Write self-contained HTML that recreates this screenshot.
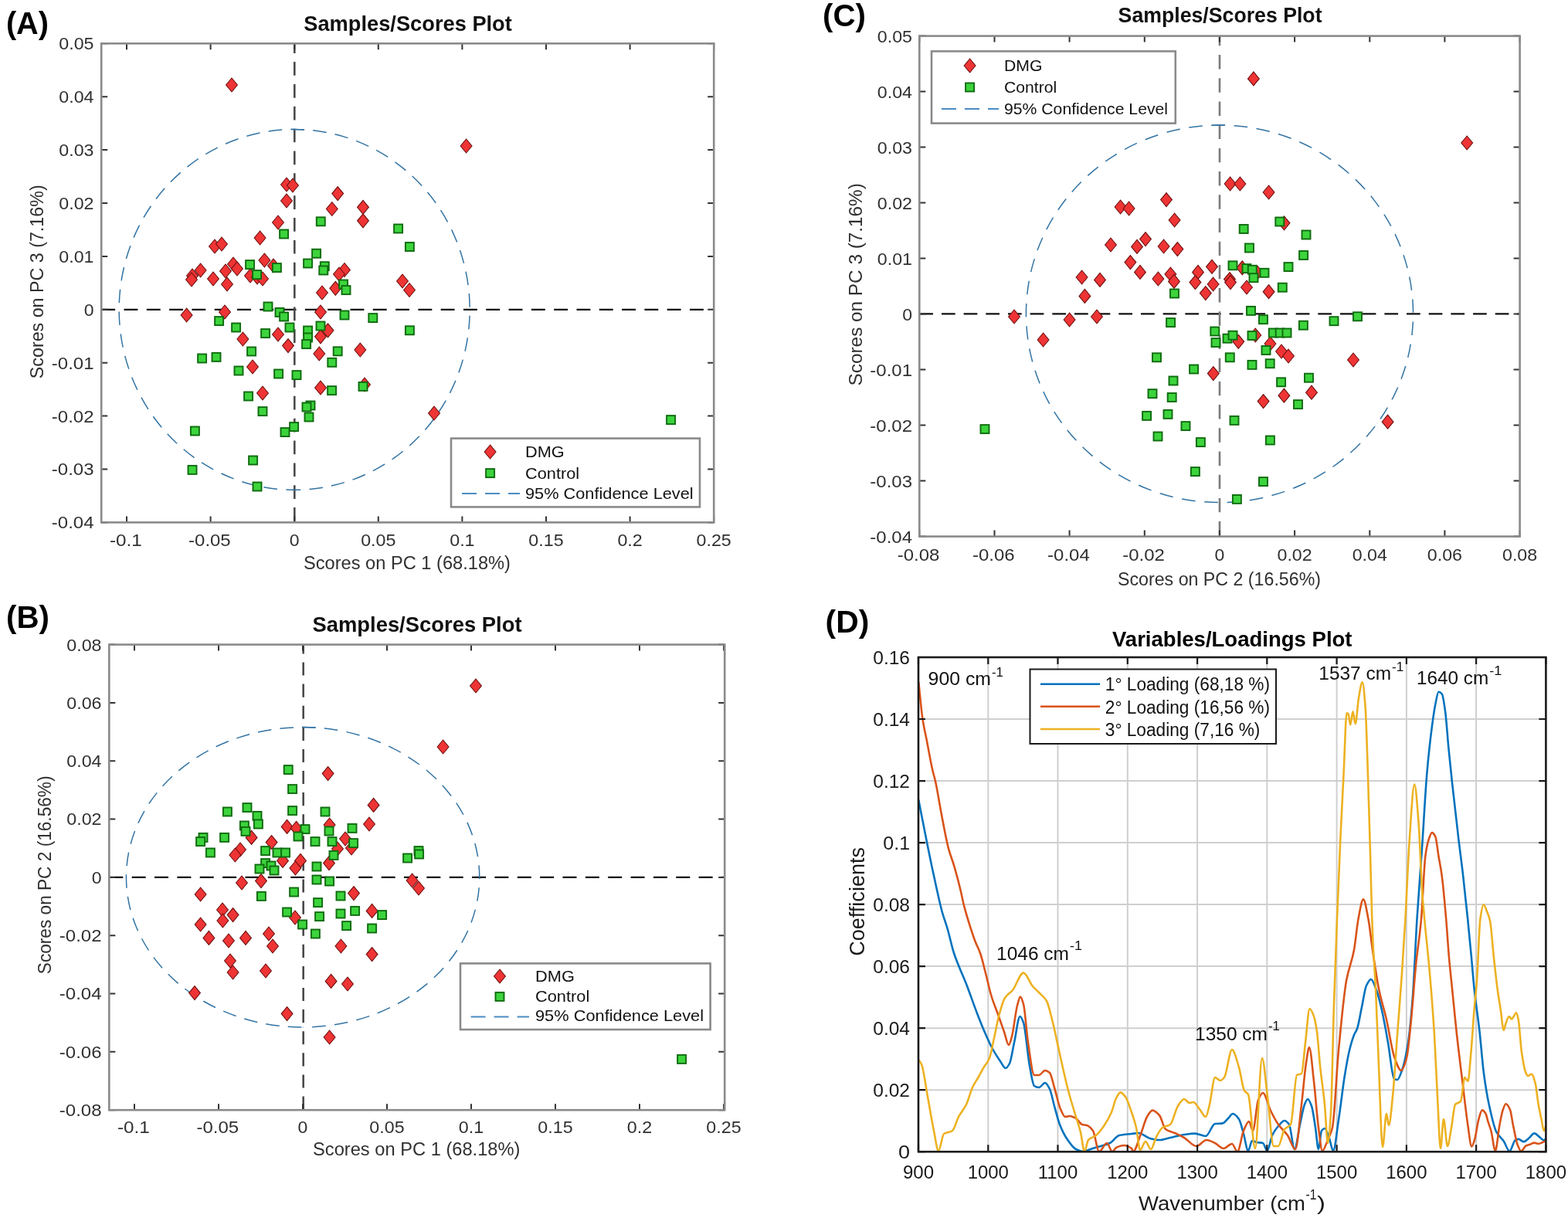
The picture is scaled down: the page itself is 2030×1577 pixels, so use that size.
<!DOCTYPE html>
<html><head><meta charset="utf-8"><title>PCA figure</title><style>html,body{margin:0;padding:0;background:#fff;}svg{display:block;}</style></head><body>
<svg width="2030" height="1577" viewBox="0 0 2030 1577" font-family="'Liberation Sans', Arial, Helvetica, sans-serif">
<rect width="2030" height="1577" fill="#fff"/>
<clipPath id="cA"><rect x="131.2" y="56.3" width="793.0" height="620.1"/></clipPath>
<g clip-path="url(#cA)">
<line x1="131.2" y1="400.9" x2="924.2" y2="400.9" stroke="#111" stroke-width="2.2" stroke-dasharray="17.9 11.4" stroke-dashoffset="0"/>
<line x1="381.3" y1="56.3" x2="381.3" y2="676.4" stroke="#4a4a4a" stroke-width="2.6" stroke-dasharray="17.7 11.15" stroke-dashoffset="5.05"/>
<path d="M376.50 167.55A227 233.4 0 1 1 381.20 634.30" fill="none" stroke="#3273a3" stroke-width="1.5" stroke-dasharray="17.6 11.18"/>
<path d="M394.10 167.88A227 233.4 0 1 0 381.20 634.30" fill="none" stroke="#3273a3" stroke-width="1.5" stroke-dasharray="17.6 11.4"/>
<g fill="#ee3434" stroke="#6e0f0f" stroke-width="1.1"><path d="M300.0 101.0L307.4 110.0L300.0 119.0L292.6 110.0Z"/><path d="M603.6 180.0L611.0 189.0L603.6 198.0L596.2 189.0Z"/><path d="M371.0 230.0L378.4 239.0L371.0 248.0L363.6 239.0Z"/><path d="M379.0 231.0L386.4 240.0L379.0 249.0L371.6 240.0Z"/><path d="M371.0 251.0L378.4 260.0L371.0 269.0L363.6 260.0Z"/><path d="M437.2 241.6L444.6 250.6L437.2 259.6L429.8 250.6Z"/><path d="M429.8 261.5L437.2 270.5L429.8 279.5L422.4 270.5Z"/><path d="M470.0 259.3L477.4 268.3L470.0 277.3L462.6 268.3Z"/><path d="M470.0 276.8L477.4 285.8L470.0 294.8L462.6 285.8Z"/><path d="M360.0 279.0L367.4 288.0L360.0 297.0L352.6 288.0Z"/><path d="M336.6 299.0L344.0 308.0L336.6 317.0L329.2 308.0Z"/><path d="M278.0 310.0L285.4 319.0L278.0 328.0L270.6 319.0Z"/><path d="M287.0 307.0L294.4 316.0L287.0 325.0L279.6 316.0Z"/><path d="M342.4 328.0L349.8 337.0L342.4 346.0L335.0 337.0Z"/><path d="M354.0 335.0L361.4 344.0L354.0 353.0L346.6 344.0Z"/><path d="M302.0 333.0L309.4 342.0L302.0 351.0L294.6 342.0Z"/><path d="M307.0 339.0L314.4 348.0L307.0 357.0L299.6 348.0Z"/><path d="M292.0 342.0L299.4 351.0L292.0 360.0L284.6 351.0Z"/><path d="M259.6 341.0L267.0 350.0L259.6 359.0L252.2 350.0Z"/><path d="M249.0 348.0L256.4 357.0L249.0 366.0L241.6 357.0Z"/><path d="M248.0 353.0L255.4 362.0L248.0 371.0L240.6 362.0Z"/><path d="M276.0 352.0L283.4 361.0L276.0 370.0L268.6 361.0Z"/><path d="M294.0 359.0L301.4 368.0L294.0 377.0L286.6 368.0Z"/><path d="M324.0 348.0L331.4 357.0L324.0 366.0L316.6 357.0Z"/><path d="M333.0 350.0L340.4 359.0L333.0 368.0L325.6 359.0Z"/><path d="M340.0 352.0L347.4 361.0L340.0 370.0L332.6 361.0Z"/><path d="M446.0 340.5L453.4 349.5L446.0 358.5L438.6 349.5Z"/><path d="M439.0 346.0L446.4 355.0L439.0 364.0L431.6 355.0Z"/><path d="M434.3 364.3L441.7 373.3L434.3 382.3L426.9 373.3Z"/><path d="M417.0 370.0L424.4 379.0L417.0 388.0L409.6 379.0Z"/><path d="M521.0 355.0L528.4 364.0L521.0 373.0L513.6 364.0Z"/><path d="M530.0 366.5L537.4 375.5L530.0 384.5L522.6 375.5Z"/><path d="M241.6 399.0L249.0 408.0L241.6 417.0L234.2 408.0Z"/><path d="M291.0 395.0L298.4 404.0L291.0 413.0L283.6 404.0Z"/><path d="M314.4 430.0L321.8 439.0L314.4 448.0L307.0 439.0Z"/><path d="M360.0 424.0L367.4 433.0L360.0 442.0L352.6 433.0Z"/><path d="M373.0 438.6L380.4 447.6L373.0 456.6L365.6 447.6Z"/><path d="M327.0 466.0L334.4 475.0L327.0 484.0L319.6 475.0Z"/><path d="M340.0 500.0L347.4 509.0L340.0 518.0L332.6 509.0Z"/><path d="M415.0 395.0L422.4 404.0L415.0 413.0L407.6 404.0Z"/><path d="M424.5 418.8L431.9 427.8L424.5 436.8L417.1 427.8Z"/><path d="M415.0 426.8L422.4 435.8L415.0 444.8L407.6 435.8Z"/><path d="M413.3 449.0L420.7 458.0L413.3 467.0L405.9 458.0Z"/><path d="M466.3 444.0L473.7 453.0L466.3 462.0L458.9 453.0Z"/><path d="M415.0 493.0L422.4 502.0L415.0 511.0L407.6 502.0Z"/><path d="M472.0 489.0L479.4 498.0L472.0 507.0L464.6 498.0Z"/><path d="M562.0 526.0L569.4 535.0L562.0 544.0L554.6 535.0Z"/></g>
<g fill="#3cd43c" stroke="#0f6b0f" stroke-width="1.9"><rect x="409.8" y="281.3" width="11.0" height="11.0"/><rect x="362.1" y="297.5" width="11.0" height="11.0"/><rect x="510.1" y="290.5" width="11.0" height="11.0"/><rect x="524.9" y="314.0" width="11.0" height="11.0"/><rect x="404.1" y="322.7" width="11.0" height="11.0"/><rect x="393.1" y="335.5" width="11.0" height="11.0"/><rect x="414.8" y="339.2" width="11.0" height="11.0"/><rect x="413.3" y="344.5" width="11.0" height="11.0"/><rect x="318.1" y="337.1" width="11.0" height="11.0"/><rect x="327.1" y="350.1" width="11.0" height="11.0"/><rect x="352.9" y="341.1" width="11.0" height="11.0"/><rect x="439.0" y="362.5" width="11.0" height="11.0"/><rect x="442.5" y="370.1" width="11.0" height="11.0"/><rect x="341.5" y="391.5" width="11.0" height="11.0"/><rect x="356.5" y="398.9" width="11.0" height="11.0"/><rect x="362.1" y="404.5" width="11.0" height="11.0"/><rect x="278.1" y="410.1" width="11.0" height="11.0"/><rect x="300.1" y="418.5" width="11.0" height="11.0"/><rect x="369.5" y="418.5" width="11.0" height="11.0"/><rect x="338.1" y="426.1" width="11.0" height="11.0"/><rect x="393.1" y="422.5" width="11.0" height="11.0"/><rect x="393.1" y="431.5" width="11.0" height="11.0"/><rect x="391.1" y="440.1" width="11.0" height="11.0"/><rect x="409.5" y="416.5" width="11.0" height="11.0"/><rect x="440.5" y="402.5" width="11.0" height="11.0"/><rect x="477.3" y="406.1" width="11.0" height="11.0"/><rect x="524.9" y="422.3" width="11.0" height="11.0"/><rect x="320.1" y="449.5" width="11.0" height="11.0"/><rect x="256.1" y="458.5" width="11.0" height="11.0"/><rect x="274.5" y="456.9" width="11.0" height="11.0"/><rect x="303.5" y="474.5" width="11.0" height="11.0"/><rect x="355.1" y="478.5" width="11.0" height="11.0"/><rect x="378.5" y="480.1" width="11.0" height="11.0"/><rect x="431.7" y="449.3" width="11.0" height="11.0"/><rect x="424.3" y="463.8" width="11.0" height="11.0"/><rect x="424.1" y="500.1" width="11.0" height="11.0"/><rect x="464.5" y="494.9" width="11.0" height="11.0"/><rect x="316.1" y="507.5" width="11.0" height="11.0"/><rect x="334.5" y="527.1" width="11.0" height="11.0"/><rect x="396.5" y="519.5" width="11.0" height="11.0"/><rect x="391.5" y="521.5" width="11.0" height="11.0"/><rect x="394.5" y="534.5" width="11.0" height="11.0"/><rect x="375.1" y="547.1" width="11.0" height="11.0"/><rect x="363.5" y="554.1" width="11.0" height="11.0"/><rect x="246.9" y="552.5" width="11.0" height="11.0"/><rect x="322.1" y="590.5" width="11.0" height="11.0"/><rect x="243.5" y="602.9" width="11.0" height="11.0"/><rect x="327.5" y="624.5" width="11.0" height="11.0"/><rect x="863.1" y="538.1" width="11.0" height="11.0"/></g>
</g>
<path d="M164.0 676.4V668.4M164.0 56.3V64.3M272.6 676.4V668.4M272.6 56.3V64.3M381.2 676.4V668.4M381.2 56.3V64.3M489.8 676.4V668.4M489.8 56.3V64.3M598.4 676.4V668.4M598.4 56.3V64.3M707.0 676.4V668.4M707.0 56.3V64.3M815.6 676.4V668.4M815.6 56.3V64.3M924.2 676.4V668.4M924.2 56.3V64.3M131.2 56.3H139.2M924.2 56.3H916.2M131.2 125.2H139.2M924.2 125.2H916.2M131.2 194.1H139.2M924.2 194.1H916.2M131.2 263.0H139.2M924.2 263.0H916.2M131.2 331.9H139.2M924.2 331.9H916.2M131.2 400.8H139.2M924.2 400.8H916.2M131.2 469.7H139.2M924.2 469.7H916.2M131.2 538.6H139.2M924.2 538.6H916.2M131.2 607.5H139.2M924.2 607.5H916.2M131.2 676.4H139.2M924.2 676.4H916.2" stroke="#333333" stroke-width="2" fill="none"/>
<rect x="131.2" y="56.3" width="793.0" height="620.1" fill="none" stroke="#8a8a8a" stroke-width="2.6"/>
<text x="162.80" y="706.60" font-size="22" font-weight="normal" fill="#303030" text-anchor="middle" textLength="41.81" lengthAdjust="spacingAndGlyphs">-0.1</text>
<text x="271.40" y="706.60" font-size="22" font-weight="normal" fill="#303030" text-anchor="middle" textLength="54.65" lengthAdjust="spacingAndGlyphs">-0.05</text>
<text x="381.20" y="706.60" font-size="22" font-weight="normal" fill="#303030" text-anchor="middle" textLength="12.84" lengthAdjust="spacingAndGlyphs">0</text>
<text x="489.80" y="706.60" font-size="22" font-weight="normal" fill="#303030" text-anchor="middle" textLength="45.22" lengthAdjust="spacingAndGlyphs">0.05</text>
<text x="598.40" y="706.60" font-size="22" font-weight="normal" fill="#303030" text-anchor="middle" textLength="32.38" lengthAdjust="spacingAndGlyphs">0.1</text>
<text x="707.00" y="706.60" font-size="22" font-weight="normal" fill="#303030" text-anchor="middle" textLength="45.22" lengthAdjust="spacingAndGlyphs">0.15</text>
<text x="815.60" y="706.60" font-size="22" font-weight="normal" fill="#303030" text-anchor="middle" textLength="32.38" lengthAdjust="spacingAndGlyphs">0.2</text>
<text x="924.20" y="706.60" font-size="22" font-weight="normal" fill="#303030" text-anchor="middle" textLength="45.22" lengthAdjust="spacingAndGlyphs">0.25</text>
<text x="121.50" y="64.22" font-size="22" font-weight="normal" fill="#303030" text-anchor="end" textLength="45.22" lengthAdjust="spacingAndGlyphs">0.05</text>
<text x="121.50" y="133.12" font-size="22" font-weight="normal" fill="#303030" text-anchor="end" textLength="45.22" lengthAdjust="spacingAndGlyphs">0.04</text>
<text x="121.50" y="202.02" font-size="22" font-weight="normal" fill="#303030" text-anchor="end" textLength="45.22" lengthAdjust="spacingAndGlyphs">0.03</text>
<text x="121.50" y="270.92" font-size="22" font-weight="normal" fill="#303030" text-anchor="end" textLength="45.22" lengthAdjust="spacingAndGlyphs">0.02</text>
<text x="121.50" y="339.82" font-size="22" font-weight="normal" fill="#303030" text-anchor="end" textLength="45.22" lengthAdjust="spacingAndGlyphs">0.01</text>
<text x="121.50" y="408.72" font-size="22" font-weight="normal" fill="#303030" text-anchor="end" textLength="12.84" lengthAdjust="spacingAndGlyphs">0</text>
<text x="121.50" y="477.62" font-size="22" font-weight="normal" fill="#303030" text-anchor="end" textLength="54.65" lengthAdjust="spacingAndGlyphs">-0.01</text>
<text x="121.50" y="546.52" font-size="22" font-weight="normal" fill="#303030" text-anchor="end" textLength="54.65" lengthAdjust="spacingAndGlyphs">-0.02</text>
<text x="121.50" y="615.42" font-size="22" font-weight="normal" fill="#303030" text-anchor="end" textLength="54.65" lengthAdjust="spacingAndGlyphs">-0.03</text>
<text x="121.50" y="684.32" font-size="22" font-weight="normal" fill="#303030" text-anchor="end" textLength="54.65" lengthAdjust="spacingAndGlyphs">-0.04</text>
<rect x="584" y="567.6" width="322" height="88.79999999999995" fill="#fff" stroke="#8a8a8a" stroke-width="2.6"/>
<g fill="#ee3434" stroke="#6e0f0f" stroke-width="1.1"><path d="M634.6 576.0L642.0 585.0L634.6 594.0L627.2 585.0Z"/></g>
<g fill="#3cd43c" stroke="#0f6b0f" stroke-width="1.9"><rect x="629.1" y="607.1" width="11.0" height="11.0"/></g>
<line x1="598" y1="639" x2="673" y2="639" stroke="#4a8cc4" stroke-width="2" stroke-dasharray="19 11"/>
<text x="680.00" y="592.40" font-size="21" font-weight="normal" fill="#111" textLength="50.74" lengthAdjust="spacingAndGlyphs" >DMG</text>
<text x="680.00" y="620.00" font-size="21" font-weight="normal" fill="#111" textLength="70.11" lengthAdjust="spacingAndGlyphs" >Control</text>
<text x="680.00" y="645.60" font-size="21" font-weight="normal" fill="#111" textLength="217.64" lengthAdjust="spacingAndGlyphs" >95% Confidence Level</text>
<clipPath id="cB"><rect x="141.3" y="834.6" width="796.9000000000001" height="602.6"/></clipPath>
<g clip-path="url(#cB)">
<line x1="141.3" y1="1135.8" x2="938.2" y2="1135.8" stroke="#111" stroke-width="2.2" stroke-dasharray="18 11.36" stroke-dashoffset="0"/>
<line x1="392.7" y1="834.6" x2="392.7" y2="1437.2" stroke="#4a4a4a" stroke-width="2.6" stroke-dasharray="17.1 11" stroke-dashoffset="5.2"/>
<path d="M391.00 941.60A229 194.2 0 1 1 392.50 1330.00" fill="none" stroke="#3273a3" stroke-width="1.5" stroke-dasharray="17.6 11.32"/>
<path d="M408.70 942.09A229 194.2 0 1 0 392.50 1330.00" fill="none" stroke="#3273a3" stroke-width="1.5" stroke-dasharray="17.6 11.19"/>
<g fill="#ee3434" stroke="#6e0f0f" stroke-width="1.1"><path d="M424.6 992.6L432.0 1001.6L424.6 1010.6L417.2 1001.6Z"/><path d="M483.6 1033.4L491.0 1042.4L483.6 1051.4L476.2 1042.4Z"/><path d="M478.0 1058.0L485.4 1067.0L478.0 1076.0L470.6 1067.0Z"/><path d="M371.6 1061.4L379.0 1070.4L371.6 1079.4L364.2 1070.4Z"/><path d="M383.6 1063.4L391.0 1072.4L383.6 1081.4L376.2 1072.4Z"/><path d="M426.6 1059.0L434.0 1068.0L426.6 1077.0L419.2 1068.0Z"/><path d="M325.6 1075.4L333.0 1084.4L325.6 1093.4L318.2 1084.4Z"/><path d="M351.6 1081.6L359.0 1090.6L351.6 1099.6L344.2 1090.6Z"/><path d="M311.0 1091.0L318.4 1100.0L311.0 1109.0L303.6 1100.0Z"/><path d="M304.4 1098.0L311.8 1107.0L304.4 1116.0L297.0 1107.0Z"/><path d="M447.0 1077.0L454.4 1086.0L447.0 1095.0L439.6 1086.0Z"/><path d="M455.0 1089.0L462.4 1098.0L455.0 1107.0L447.6 1098.0Z"/><path d="M437.0 1090.0L444.4 1099.0L437.0 1108.0L429.6 1099.0Z"/><path d="M366.0 1105.4L373.4 1114.4L366.0 1123.4L358.6 1114.4Z"/><path d="M389.0 1105.4L396.4 1114.4L389.0 1123.4L381.6 1114.4Z"/><path d="M382.4 1115.0L389.8 1124.0L382.4 1133.0L375.0 1124.0Z"/><path d="M426.0 1108.6L433.4 1117.6L426.0 1126.6L418.6 1117.6Z"/><path d="M313.0 1134.0L320.4 1143.0L313.0 1152.0L305.6 1143.0Z"/><path d="M338.0 1131.6L345.4 1140.6L338.0 1149.6L330.6 1140.6Z"/><path d="M259.6 1149.0L267.0 1158.0L259.6 1167.0L252.2 1158.0Z"/><path d="M533.6 1131.0L541.0 1140.0L533.6 1149.0L526.2 1140.0Z"/><path d="M542.0 1141.0L549.4 1150.0L542.0 1159.0L534.6 1150.0Z"/><path d="M458.0 1147.6L465.4 1156.6L458.0 1165.6L450.6 1156.6Z"/><path d="M288.0 1169.0L295.4 1178.0L288.0 1187.0L280.6 1178.0Z"/><path d="M301.6 1175.6L309.0 1184.6L301.6 1193.6L294.2 1184.6Z"/><path d="M288.4 1183.0L295.8 1192.0L288.4 1201.0L281.0 1192.0Z"/><path d="M259.6 1188.0L267.0 1197.0L259.6 1206.0L252.2 1197.0Z"/><path d="M382.0 1179.0L389.4 1188.0L382.0 1197.0L374.6 1188.0Z"/><path d="M481.6 1170.4L489.0 1179.4L481.6 1188.4L474.2 1179.4Z"/><path d="M270.4 1205.4L277.8 1214.4L270.4 1223.4L263.0 1214.4Z"/><path d="M296.0 1209.0L303.4 1218.0L296.0 1227.0L288.6 1218.0Z"/><path d="M318.0 1205.4L325.4 1214.4L318.0 1223.4L310.6 1214.4Z"/><path d="M348.0 1200.0L355.4 1209.0L348.0 1218.0L340.6 1209.0Z"/><path d="M353.0 1216.0L360.4 1225.0L353.0 1234.0L345.6 1225.0Z"/><path d="M441.4 1216.0L448.8 1225.0L441.4 1234.0L434.0 1225.0Z"/><path d="M481.6 1226.6L489.0 1235.6L481.6 1244.6L474.2 1235.6Z"/><path d="M298.0 1235.0L305.4 1244.0L298.0 1253.0L290.6 1244.0Z"/><path d="M301.6 1250.0L309.0 1259.0L301.6 1268.0L294.2 1259.0Z"/><path d="M344.0 1248.0L351.4 1257.0L344.0 1266.0L336.6 1257.0Z"/><path d="M428.6 1261.4L436.0 1270.4L428.6 1279.4L421.2 1270.4Z"/><path d="M450.0 1265.0L457.4 1274.0L450.0 1283.0L442.6 1274.0Z"/><path d="M252.0 1276.6L259.4 1285.6L252.0 1294.6L244.6 1285.6Z"/><path d="M371.6 1303.6L379.0 1312.6L371.6 1321.6L364.2 1312.6Z"/><path d="M426.6 1334.0L434.0 1343.0L426.6 1352.0L419.2 1343.0Z"/><path d="M616.0 879.0L623.4 888.0L616.0 897.0L608.6 888.0Z"/><path d="M573.6 958.0L581.0 967.0L573.6 976.0L566.2 967.0Z"/></g>
<g fill="#3cd43c" stroke="#0f6b0f" stroke-width="1.9"><rect x="367.7" y="991.1" width="11.0" height="11.0"/><rect x="373.1" y="1016.1" width="11.0" height="11.0"/><rect x="373.1" y="1044.1" width="11.0" height="11.0"/><rect x="288.9" y="1045.5" width="11.0" height="11.0"/><rect x="314.5" y="1040.1" width="11.0" height="11.0"/><rect x="327.5" y="1050.9" width="11.0" height="11.0"/><rect x="328.9" y="1061.5" width="11.0" height="11.0"/><rect x="310.9" y="1063.5" width="11.0" height="11.0"/><rect x="312.5" y="1070.9" width="11.0" height="11.0"/><rect x="415.5" y="1045.5" width="11.0" height="11.0"/><rect x="389.5" y="1068.1" width="11.0" height="11.0"/><rect x="380.5" y="1077.5" width="11.0" height="11.0"/><rect x="420.5" y="1070.5" width="11.0" height="11.0"/><rect x="450.5" y="1066.9" width="11.0" height="11.0"/><rect x="402.5" y="1084.1" width="11.0" height="11.0"/><rect x="424.5" y="1084.1" width="11.0" height="11.0"/><rect x="452.1" y="1086.1" width="11.0" height="11.0"/><rect x="257.5" y="1078.9" width="11.0" height="11.0"/><rect x="254.1" y="1084.1" width="11.0" height="11.0"/><rect x="285.1" y="1078.9" width="11.0" height="11.0"/><rect x="266.9" y="1098.5" width="11.0" height="11.0"/><rect x="338.1" y="1096.1" width="11.0" height="11.0"/><rect x="353.5" y="1098.5" width="11.0" height="11.0"/><rect x="364.1" y="1098.5" width="11.0" height="11.0"/><rect x="338.1" y="1112.1" width="11.0" height="11.0"/><rect x="345.5" y="1115.5" width="11.0" height="11.0"/><rect x="330.5" y="1119.5" width="11.0" height="11.0"/><rect x="349.5" y="1121.5" width="11.0" height="11.0"/><rect x="426.5" y="1101.9" width="11.0" height="11.0"/><rect x="404.5" y="1116.5" width="11.0" height="11.0"/><rect x="404.5" y="1133.5" width="11.0" height="11.0"/><rect x="421.1" y="1135.5" width="11.0" height="11.0"/><rect x="522.1" y="1105.5" width="11.0" height="11.0"/><rect x="536.5" y="1096.1" width="11.0" height="11.0"/><rect x="537.1" y="1100.5" width="11.0" height="11.0"/><rect x="375.1" y="1149.5" width="11.0" height="11.0"/><rect x="332.9" y="1154.9" width="11.0" height="11.0"/><rect x="435.5" y="1154.5" width="11.0" height="11.0"/><rect x="406.1" y="1163.1" width="11.0" height="11.0"/><rect x="366.1" y="1175.5" width="11.0" height="11.0"/><rect x="408.1" y="1181.1" width="11.0" height="11.0"/><rect x="435.5" y="1177.5" width="11.0" height="11.0"/><rect x="454.1" y="1173.9" width="11.0" height="11.0"/><rect x="489.1" y="1179.1" width="11.0" height="11.0"/><rect x="386.1" y="1191.5" width="11.0" height="11.0"/><rect x="443.1" y="1193.1" width="11.0" height="11.0"/><rect x="476.1" y="1196.5" width="11.0" height="11.0"/><rect x="402.9" y="1203.5" width="11.0" height="11.0"/><rect x="877.1" y="1365.9" width="11.0" height="11.0"/></g>
</g>
<path d="M174.0 1437.2V1429.2M174.0 834.6V842.6M283.0 1437.2V1429.2M283.0 834.6V842.6M392.0 1437.2V1429.2M392.0 834.6V842.6M501.0 1437.2V1429.2M501.0 834.6V842.6M610.0 1437.2V1429.2M610.0 834.6V842.6M719.0 1437.2V1429.2M719.0 834.6V842.6M828.0 1437.2V1429.2M828.0 834.6V842.6M937.0 1437.2V1429.2M937.0 834.6V842.6M141.3 834.6H149.3M938.2 834.6H930.2M141.3 909.9H149.3M938.2 909.9H930.2M141.3 985.2H149.3M938.2 985.2H930.2M141.3 1060.6H149.3M938.2 1060.6H930.2M141.3 1135.9H149.3M938.2 1135.9H930.2M141.3 1211.2H149.3M938.2 1211.2H930.2M141.3 1286.5H149.3M938.2 1286.5H930.2M141.3 1361.8H149.3M938.2 1361.8H930.2M141.3 1437.2H149.3M938.2 1437.2H930.2" stroke="#333333" stroke-width="2" fill="none"/>
<rect x="141.3" y="834.6" width="796.9000000000001" height="602.6" fill="none" stroke="#8a8a8a" stroke-width="2.6"/>
<text x="172.80" y="1466.60" font-size="22" font-weight="normal" fill="#303030" text-anchor="middle" textLength="41.81" lengthAdjust="spacingAndGlyphs">-0.1</text>
<text x="281.80" y="1466.60" font-size="22" font-weight="normal" fill="#303030" text-anchor="middle" textLength="54.65" lengthAdjust="spacingAndGlyphs">-0.05</text>
<text x="392.00" y="1466.60" font-size="22" font-weight="normal" fill="#303030" text-anchor="middle" textLength="12.84" lengthAdjust="spacingAndGlyphs">0</text>
<text x="501.00" y="1466.60" font-size="22" font-weight="normal" fill="#303030" text-anchor="middle" textLength="45.22" lengthAdjust="spacingAndGlyphs">0.05</text>
<text x="610.00" y="1466.60" font-size="22" font-weight="normal" fill="#303030" text-anchor="middle" textLength="32.38" lengthAdjust="spacingAndGlyphs">0.1</text>
<text x="719.00" y="1466.60" font-size="22" font-weight="normal" fill="#303030" text-anchor="middle" textLength="45.22" lengthAdjust="spacingAndGlyphs">0.15</text>
<text x="828.00" y="1466.60" font-size="22" font-weight="normal" fill="#303030" text-anchor="middle" textLength="32.38" lengthAdjust="spacingAndGlyphs">0.2</text>
<text x="937.00" y="1466.60" font-size="22" font-weight="normal" fill="#303030" text-anchor="middle" textLength="45.22" lengthAdjust="spacingAndGlyphs">0.25</text>
<text x="131.50" y="842.52" font-size="22" font-weight="normal" fill="#303030" text-anchor="end" textLength="45.22" lengthAdjust="spacingAndGlyphs">0.08</text>
<text x="131.50" y="917.84" font-size="22" font-weight="normal" fill="#303030" text-anchor="end" textLength="45.22" lengthAdjust="spacingAndGlyphs">0.06</text>
<text x="131.50" y="993.16" font-size="22" font-weight="normal" fill="#303030" text-anchor="end" textLength="45.22" lengthAdjust="spacingAndGlyphs">0.04</text>
<text x="131.50" y="1068.48" font-size="22" font-weight="normal" fill="#303030" text-anchor="end" textLength="45.22" lengthAdjust="spacingAndGlyphs">0.02</text>
<text x="131.50" y="1143.80" font-size="22" font-weight="normal" fill="#303030" text-anchor="end" textLength="12.84" lengthAdjust="spacingAndGlyphs">0</text>
<text x="131.50" y="1219.12" font-size="22" font-weight="normal" fill="#303030" text-anchor="end" textLength="54.65" lengthAdjust="spacingAndGlyphs">-0.02</text>
<text x="131.50" y="1294.44" font-size="22" font-weight="normal" fill="#303030" text-anchor="end" textLength="54.65" lengthAdjust="spacingAndGlyphs">-0.04</text>
<text x="131.50" y="1369.76" font-size="22" font-weight="normal" fill="#303030" text-anchor="end" textLength="54.65" lengthAdjust="spacingAndGlyphs">-0.06</text>
<text x="131.50" y="1445.08" font-size="22" font-weight="normal" fill="#303030" text-anchor="end" textLength="54.65" lengthAdjust="spacingAndGlyphs">-0.08</text>
<rect x="596" y="1247.4" width="323.6" height="85.59999999999991" fill="#fff" stroke="#8a8a8a" stroke-width="2.6"/>
<g fill="#ee3434" stroke="#6e0f0f" stroke-width="1.1"><path d="M647.0 1255.0L654.4 1264.0L647.0 1273.0L639.6 1264.0Z"/></g>
<g fill="#3cd43c" stroke="#0f6b0f" stroke-width="1.9"><rect x="641.5" y="1284.9" width="11.0" height="11.0"/></g>
<line x1="609.6" y1="1316.4" x2="685" y2="1316.4" stroke="#4a8cc4" stroke-width="2" stroke-dasharray="19 11"/>
<text x="693.00" y="1271.00" font-size="21" font-weight="normal" fill="#111" textLength="50.84" lengthAdjust="spacingAndGlyphs" >DMG</text>
<text x="693.00" y="1296.50" font-size="21" font-weight="normal" fill="#111" textLength="70.24" lengthAdjust="spacingAndGlyphs" >Control</text>
<text x="693.00" y="1322.40" font-size="21" font-weight="normal" fill="#111" textLength="218.04" lengthAdjust="spacingAndGlyphs" >95% Confidence Level</text>
<clipPath id="cC"><rect x="1190.3" y="46.6" width="777.3" height="648.0"/></clipPath>
<g clip-path="url(#cC)">
<line x1="1190.3" y1="406.3" x2="1967.6" y2="406.3" stroke="#111" stroke-width="2.2" stroke-dasharray="17.7 10.97" stroke-dashoffset="0"/>
<line x1="1579.0" y1="46.6" x2="1579.0" y2="694.6" stroke="#7a7a7a" stroke-width="2.6" stroke-dasharray="18.4 11.8" stroke-dashoffset="5.7"/>
<path d="M1568.40 162.22A250.5 244.3 0 1 1 1579.00 650.60" fill="none" stroke="#3273a3" stroke-width="1.5" stroke-dasharray="17.6 11.64"/>
<path d="M1586.10 162.10A250.5 244.3 0 1 0 1579.00 650.60" fill="none" stroke="#3273a3" stroke-width="1.5" stroke-dasharray="17.6 11.8"/>
<g fill="#ee3434" stroke="#6e0f0f" stroke-width="1.1"><path d="M1622.9 92.9L1630.3 101.9L1622.9 110.9L1615.5 101.9Z"/><path d="M1899.2 176.0L1906.6 185.0L1899.2 194.0L1891.8 185.0Z"/><path d="M1592.6 229.0L1600.0 238.0L1592.6 247.0L1585.2 238.0Z"/><path d="M1605.4 229.0L1612.8 238.0L1605.4 247.0L1598.0 238.0Z"/><path d="M1642.6 240.0L1650.0 249.0L1642.6 258.0L1635.2 249.0Z"/><path d="M1510.0 249.6L1517.4 258.6L1510.0 267.6L1502.6 258.6Z"/><path d="M1450.6 259.0L1458.0 268.0L1450.6 277.0L1443.2 268.0Z"/><path d="M1461.6 261.0L1469.0 270.0L1461.6 279.0L1454.2 270.0Z"/><path d="M1520.6 276.0L1528.0 285.0L1520.6 294.0L1513.2 285.0Z"/><path d="M1662.5 279.8L1669.9 288.8L1662.5 297.8L1655.1 288.8Z"/><path d="M1438.0 308.0L1445.4 317.0L1438.0 326.0L1430.6 317.0Z"/><path d="M1483.0 300.6L1490.4 309.6L1483.0 318.6L1475.6 309.6Z"/><path d="M1472.0 310.4L1479.4 319.4L1472.0 328.4L1464.6 319.4Z"/><path d="M1506.6 310.0L1514.0 319.0L1506.6 328.0L1499.2 319.0Z"/><path d="M1524.4 313.6L1531.8 322.6L1524.4 331.6L1517.0 322.6Z"/><path d="M1463.4 330.6L1470.8 339.6L1463.4 348.6L1456.0 339.6Z"/><path d="M1476.0 343.4L1483.4 352.4L1476.0 361.4L1468.6 352.4Z"/><path d="M1400.6 350.0L1408.0 359.0L1400.6 368.0L1393.2 359.0Z"/><path d="M1424.0 353.4L1431.4 362.4L1424.0 371.4L1416.6 362.4Z"/><path d="M1404.4 374.4L1411.8 383.4L1404.4 392.4L1397.0 383.4Z"/><path d="M1499.4 352.0L1506.8 361.0L1499.4 370.0L1492.0 361.0Z"/><path d="M1515.4 346.0L1522.8 355.0L1515.4 364.0L1508.0 355.0Z"/><path d="M1520.0 355.4L1527.4 364.4L1520.0 373.4L1512.6 364.4Z"/><path d="M1551.0 343.4L1558.4 352.4L1551.0 361.4L1543.6 352.4Z"/><path d="M1547.4 356.6L1554.8 365.6L1547.4 374.6L1540.0 365.6Z"/><path d="M1569.0 336.3L1576.4 345.3L1569.0 354.3L1561.6 345.3Z"/><path d="M1570.6 359.0L1578.0 368.0L1570.6 377.0L1563.2 368.0Z"/><path d="M1560.8 370.6L1568.2 379.6L1560.8 388.6L1553.4 379.6Z"/><path d="M1592.0 352.6L1599.4 361.6L1592.0 370.6L1584.6 361.6Z"/><path d="M1593.0 356.6L1600.4 365.6L1593.0 374.6L1585.6 365.6Z"/><path d="M1608.3 337.8L1615.7 346.8L1608.3 355.8L1600.9 346.8Z"/><path d="M1614.0 363.0L1621.4 372.0L1614.0 381.0L1606.6 372.0Z"/><path d="M1642.6 368.7L1650.0 377.7L1642.6 386.7L1635.2 377.7Z"/><path d="M1627.8 344.0L1635.2 353.0L1627.8 362.0L1620.4 353.0Z"/><path d="M1313.0 401.0L1320.4 410.0L1313.0 419.0L1305.6 410.0Z"/><path d="M1384.6 405.0L1392.0 414.0L1384.6 423.0L1377.2 414.0Z"/><path d="M1420.0 401.0L1427.4 410.0L1420.0 419.0L1412.6 410.0Z"/><path d="M1350.6 431.0L1358.0 440.0L1350.6 449.0L1343.2 440.0Z"/><path d="M1570.8 474.6L1578.2 483.6L1570.8 492.6L1563.4 483.6Z"/><path d="M1603.3 433.3L1610.7 442.3L1603.3 451.3L1595.9 442.3Z"/><path d="M1625.3 425.0L1632.7 434.0L1625.3 443.0L1617.9 434.0Z"/><path d="M1644.5 436.0L1651.9 445.0L1644.5 454.0L1637.1 445.0Z"/><path d="M1659.0 446.0L1666.4 455.0L1659.0 464.0L1651.6 455.0Z"/><path d="M1668.0 452.0L1675.4 461.0L1668.0 470.0L1660.6 461.0Z"/><path d="M1752.0 457.0L1759.4 466.0L1752.0 475.0L1744.6 466.0Z"/><path d="M1662.4 503.2L1669.8 512.2L1662.4 521.2L1655.0 512.2Z"/><path d="M1698.0 499.2L1705.4 508.2L1698.0 517.2L1690.6 508.2Z"/><path d="M1635.6 510.6L1643.0 519.6L1635.6 528.6L1628.2 519.6Z"/><path d="M1796.6 537.2L1804.0 546.2L1796.6 555.2L1789.2 546.2Z"/></g>
<g fill="#3cd43c" stroke="#0f6b0f" stroke-width="1.9"><rect x="1604.7" y="291.0" width="11.0" height="11.0"/><rect x="1651.3" y="281.5" width="11.0" height="11.0"/><rect x="1685.5" y="298.5" width="11.0" height="11.0"/><rect x="1612.0" y="315.5" width="11.0" height="11.0"/><rect x="1682.1" y="325.0" width="11.0" height="11.0"/><rect x="1590.5" y="338.3" width="11.0" height="11.0"/><rect x="1608.5" y="342.1" width="11.0" height="11.0"/><rect x="1615.8" y="343.8" width="11.0" height="11.0"/><rect x="1617.5" y="354.2" width="11.0" height="11.0"/><rect x="1631.5" y="347.8" width="11.0" height="11.0"/><rect x="1662.5" y="340.1" width="11.0" height="11.0"/><rect x="1654.8" y="366.7" width="11.0" height="11.0"/><rect x="1515.0" y="374.5" width="11.0" height="11.0"/><rect x="1614.0" y="396.9" width="11.0" height="11.0"/><rect x="1630.0" y="408.2" width="11.0" height="11.0"/><rect x="1681.9" y="415.7" width="11.0" height="11.0"/><rect x="1721.5" y="410.2" width="11.0" height="11.0"/><rect x="1752.0" y="404.3" width="11.0" height="11.0"/><rect x="1510.1" y="412.1" width="11.0" height="11.0"/><rect x="1567.3" y="423.5" width="11.0" height="11.0"/><rect x="1568.5" y="438.1" width="11.0" height="11.0"/><rect x="1583.5" y="432.7" width="11.0" height="11.0"/><rect x="1590.5" y="428.7" width="11.0" height="11.0"/><rect x="1615.5" y="429.0" width="11.0" height="11.0"/><rect x="1642.8" y="425.5" width="11.0" height="11.0"/><rect x="1651.7" y="425.5" width="11.0" height="11.0"/><rect x="1660.5" y="425.5" width="11.0" height="11.0"/><rect x="1633.5" y="448.0" width="11.0" height="11.0"/><rect x="1492.0" y="457.3" width="11.0" height="11.0"/><rect x="1586.8" y="457.3" width="11.0" height="11.0"/><rect x="1615.5" y="466.9" width="11.0" height="11.0"/><rect x="1638.7" y="465.2" width="11.0" height="11.0"/><rect x="1540.1" y="472.5" width="11.0" height="11.0"/><rect x="1513.5" y="487.5" width="11.0" height="11.0"/><rect x="1689.0" y="483.7" width="11.0" height="11.0"/><rect x="1653.1" y="489.3" width="11.0" height="11.0"/><rect x="1675.0" y="518.1" width="11.0" height="11.0"/><rect x="1486.5" y="504.2" width="11.0" height="11.0"/><rect x="1511.7" y="509.0" width="11.0" height="11.0"/><rect x="1592.5" y="538.9" width="11.0" height="11.0"/><rect x="1479.1" y="532.9" width="11.0" height="11.0"/><rect x="1506.5" y="530.9" width="11.0" height="11.0"/><rect x="1529.5" y="546.1" width="11.0" height="11.0"/><rect x="1269.5" y="550.1" width="11.0" height="11.0"/><rect x="1493.5" y="559.5" width="11.0" height="11.0"/><rect x="1548.9" y="567.1" width="11.0" height="11.0"/><rect x="1638.9" y="564.5" width="11.0" height="11.0"/><rect x="1541.9" y="605.1" width="11.0" height="11.0"/><rect x="1630.0" y="618.1" width="11.0" height="11.0"/><rect x="1595.9" y="640.9" width="11.0" height="11.0"/></g>
</g>
<path d="M1190.3 694.6V686.6M1190.3 46.6V54.6M1287.5 694.6V686.6M1287.5 46.6V54.6M1384.6 694.6V686.6M1384.6 46.6V54.6M1481.8 694.6V686.6M1481.8 46.6V54.6M1578.9 694.6V686.6M1578.9 46.6V54.6M1676.1 694.6V686.6M1676.1 46.6V54.6M1773.3 694.6V686.6M1773.3 46.6V54.6M1870.4 694.6V686.6M1870.4 46.6V54.6M1967.6 694.6V686.6M1967.6 46.6V54.6M1190.3 46.6H1198.3M1967.6 46.6H1959.6M1190.3 118.6H1198.3M1967.6 118.6H1959.6M1190.3 190.6H1198.3M1967.6 190.6H1959.6M1190.3 262.6H1198.3M1967.6 262.6H1959.6M1190.3 334.6H1198.3M1967.6 334.6H1959.6M1190.3 406.6H1198.3M1967.6 406.6H1959.6M1190.3 478.6H1198.3M1967.6 478.6H1959.6M1190.3 550.6H1198.3M1967.6 550.6H1959.6M1190.3 622.6H1198.3M1967.6 622.6H1959.6M1190.3 694.6H1198.3M1967.6 694.6H1959.6" stroke="#333333" stroke-width="2" fill="none"/>
<rect x="1190.3" y="46.6" width="777.3" height="648.0" fill="none" stroke="#8a8a8a" stroke-width="2.6"/>
<text x="1189.10" y="726.00" font-size="22" font-weight="normal" fill="#303030" text-anchor="middle" textLength="54.65" lengthAdjust="spacingAndGlyphs">-0.08</text>
<text x="1286.26" y="726.00" font-size="22" font-weight="normal" fill="#303030" text-anchor="middle" textLength="54.65" lengthAdjust="spacingAndGlyphs">-0.06</text>
<text x="1383.42" y="726.00" font-size="22" font-weight="normal" fill="#303030" text-anchor="middle" textLength="54.65" lengthAdjust="spacingAndGlyphs">-0.04</text>
<text x="1480.58" y="726.00" font-size="22" font-weight="normal" fill="#303030" text-anchor="middle" textLength="54.65" lengthAdjust="spacingAndGlyphs">-0.02</text>
<text x="1578.94" y="726.00" font-size="22" font-weight="normal" fill="#303030" text-anchor="middle" textLength="12.84" lengthAdjust="spacingAndGlyphs">0</text>
<text x="1676.10" y="726.00" font-size="22" font-weight="normal" fill="#303030" text-anchor="middle" textLength="45.22" lengthAdjust="spacingAndGlyphs">0.02</text>
<text x="1773.26" y="726.00" font-size="22" font-weight="normal" fill="#303030" text-anchor="middle" textLength="45.22" lengthAdjust="spacingAndGlyphs">0.04</text>
<text x="1870.42" y="726.00" font-size="22" font-weight="normal" fill="#303030" text-anchor="middle" textLength="45.22" lengthAdjust="spacingAndGlyphs">0.06</text>
<text x="1967.58" y="726.00" font-size="22" font-weight="normal" fill="#303030" text-anchor="middle" textLength="45.22" lengthAdjust="spacingAndGlyphs">0.08</text>
<text x="1181.00" y="54.52" font-size="22" font-weight="normal" fill="#303030" text-anchor="end" textLength="45.22" lengthAdjust="spacingAndGlyphs">0.05</text>
<text x="1181.00" y="126.52" font-size="22" font-weight="normal" fill="#303030" text-anchor="end" textLength="45.22" lengthAdjust="spacingAndGlyphs">0.04</text>
<text x="1181.00" y="198.52" font-size="22" font-weight="normal" fill="#303030" text-anchor="end" textLength="45.22" lengthAdjust="spacingAndGlyphs">0.03</text>
<text x="1181.00" y="270.52" font-size="22" font-weight="normal" fill="#303030" text-anchor="end" textLength="45.22" lengthAdjust="spacingAndGlyphs">0.02</text>
<text x="1181.00" y="342.52" font-size="22" font-weight="normal" fill="#303030" text-anchor="end" textLength="45.22" lengthAdjust="spacingAndGlyphs">0.01</text>
<text x="1181.00" y="414.52" font-size="22" font-weight="normal" fill="#303030" text-anchor="end" textLength="12.84" lengthAdjust="spacingAndGlyphs">0</text>
<text x="1181.00" y="486.52" font-size="22" font-weight="normal" fill="#303030" text-anchor="end" textLength="54.65" lengthAdjust="spacingAndGlyphs">-0.01</text>
<text x="1181.00" y="558.52" font-size="22" font-weight="normal" fill="#303030" text-anchor="end" textLength="54.65" lengthAdjust="spacingAndGlyphs">-0.02</text>
<text x="1181.00" y="630.52" font-size="22" font-weight="normal" fill="#303030" text-anchor="end" textLength="54.65" lengthAdjust="spacingAndGlyphs">-0.03</text>
<text x="1181.00" y="702.52" font-size="22" font-weight="normal" fill="#303030" text-anchor="end" textLength="54.65" lengthAdjust="spacingAndGlyphs">-0.04</text>
<rect x="1206" y="66.4" width="315.79999999999995" height="93.19999999999999" fill="#fff" stroke="#8a8a8a" stroke-width="2.6"/>
<g fill="#ee3434" stroke="#6e0f0f" stroke-width="1.1"><path d="M1255.6 76.0L1263.0 85.0L1255.6 94.0L1248.2 85.0Z"/></g>
<g fill="#3cd43c" stroke="#0f6b0f" stroke-width="1.9"><rect x="1250.1" y="107.5" width="11.0" height="11.0"/></g>
<line x1="1219" y1="141" x2="1293" y2="141" stroke="#4a8cc4" stroke-width="2" stroke-dasharray="19 11"/>
<text x="1300.00" y="92.40" font-size="21" font-weight="normal" fill="#111" textLength="49.44" lengthAdjust="spacingAndGlyphs" >DMG</text>
<text x="1300.00" y="119.80" font-size="21" font-weight="normal" fill="#111" textLength="68.31" lengthAdjust="spacingAndGlyphs" >Control</text>
<text x="1300.00" y="147.60" font-size="21" font-weight="normal" fill="#111" textLength="212.04" lengthAdjust="spacingAndGlyphs" >95% Confidence Level</text>
<text x="7.90" y="44.00" font-size="40" font-weight="bold" fill="#000" textLength="55.13" lengthAdjust="spacingAndGlyphs" >(A)</text>
<text x="8.00" y="812.50" font-size="40" font-weight="bold" fill="#000" textLength="55.93" lengthAdjust="spacingAndGlyphs" >(B)</text>
<text x="1065.00" y="33.50" font-size="40" font-weight="bold" fill="#000" textLength="55.93" lengthAdjust="spacingAndGlyphs" >(C)</text>
<text x="1068.60" y="818.50" font-size="40" font-weight="bold" fill="#000" textLength="56.63" lengthAdjust="spacingAndGlyphs" >(D)</text>
<text x="393.30" y="40.00" font-size="27" font-weight="bold" fill="#111" textLength="269.55" lengthAdjust="spacingAndGlyphs" >Samples/Scores Plot</text>
<text x="404.40" y="818.30" font-size="27" font-weight="bold" fill="#111" textLength="271.15" lengthAdjust="spacingAndGlyphs" >Samples/Scores Plot</text>
<text x="1447.60" y="28.80" font-size="27" font-weight="bold" fill="#111" textLength="263.95" lengthAdjust="spacingAndGlyphs" >Samples/Scores Plot</text>
<text x="1440.00" y="837.00" font-size="27" font-weight="bold" fill="#000" textLength="310.53" lengthAdjust="spacingAndGlyphs" >Variables/Loadings Plot</text>
<text x="393.00" y="736.70" font-size="23" font-weight="normal" fill="#303030" textLength="267.98" lengthAdjust="spacingAndGlyphs" >Scores on PC 1 (68.18%)</text>
<text x="405.00" y="1496.00" font-size="23" font-weight="normal" fill="#303030" textLength="268.48" lengthAdjust="spacingAndGlyphs" >Scores on PC 1 (68.18%)</text>
<text x="1447.00" y="758.00" font-size="23" font-weight="normal" fill="#303030" textLength="262.98" lengthAdjust="spacingAndGlyphs" >Scores on PC 2 (16.56%)</text>
<text transform="translate(55.80,490.20) rotate(-90)" x="-0.00" y="0" font-size="23" font-weight="normal" fill="#303030" textLength="250.85" lengthAdjust="spacingAndGlyphs" >Scores on PC 3 (7.16%)</text>
<text transform="translate(66.00,1261.20) rotate(-90)" x="-0.00" y="0" font-size="23" font-weight="normal" fill="#303030" textLength="256.68" lengthAdjust="spacingAndGlyphs" >Scores on PC 2 (16.56%)</text>
<text transform="translate(1116.40,499.40) rotate(-90)" x="-0.00" y="0" font-size="23" font-weight="normal" fill="#303030" textLength="262.25" lengthAdjust="spacingAndGlyphs" >Scores on PC 3 (7.16%)</text>
<clipPath id="cD"><rect x="1189.0" y="851.0" width="812.4000000000001" height="640.2"/></clipPath>
<path d="M1279.3 851.0V1491.2M1369.5 851.0V1491.2M1459.8 851.0V1491.2M1550.1 851.0V1491.2M1640.3 851.0V1491.2M1730.6 851.0V1491.2M1820.9 851.0V1491.2M1911.1 851.0V1491.2M1189.0 1411.2H2001.4M1189.0 1331.2H2001.4M1189.0 1251.1H2001.4M1189.0 1171.1H2001.4M1189.0 1091.1H2001.4M1189.0 1011.1H2001.4M1189.0 931.0H2001.4" stroke="#cfcfcf" stroke-width="2" fill="none"/>
<g clip-path="url(#cD)" fill="none" stroke-width="2.6" stroke-linejoin="round" stroke-linecap="round">
<path d="M1189.30 1036.00C1190.40 1041.67 1191.50 1047.37 1192.60 1053.00C1194.90 1064.77 1197.20 1076.51 1199.50 1088.00C1201.67 1098.82 1203.83 1109.68 1206.00 1120.00C1208.17 1130.32 1210.33 1140.37 1212.50 1150.00C1214.83 1160.38 1217.17 1171.54 1219.50 1180.00C1221.83 1188.46 1224.17 1194.03 1226.50 1202.00C1229.33 1211.68 1232.17 1225.31 1235.00 1234.00C1240.33 1250.36 1245.67 1260.11 1251.00 1274.00C1255.67 1286.16 1260.33 1299.90 1265.00 1312.00C1267.67 1318.91 1270.33 1325.78 1273.00 1332.00C1277.00 1341.33 1281.00 1350.67 1285.00 1358.00C1288.33 1364.11 1291.67 1369.28 1295.00 1374.00C1297.33 1377.31 1299.67 1383.00 1302.00 1383.00C1303.67 1383.00 1305.33 1380.10 1307.00 1377.00C1309.00 1373.28 1311.00 1358.97 1313.00 1350.00C1315.53 1338.63 1318.07 1316.00 1320.60 1316.00C1322.07 1316.00 1323.53 1319.99 1325.00 1324.00C1327.67 1331.28 1330.33 1365.88 1333.00 1380.00C1335.00 1390.59 1337.00 1404.76 1339.00 1406.00C1341.00 1407.24 1343.00 1408.00 1345.00 1408.00C1347.67 1408.00 1350.33 1402.00 1353.00 1402.00C1355.00 1402.00 1357.00 1406.09 1359.00 1410.00C1361.00 1413.91 1363.00 1424.91 1365.00 1432.00C1367.33 1440.28 1369.67 1450.04 1372.00 1456.00C1375.00 1463.66 1378.00 1469.52 1381.00 1474.00C1385.00 1479.97 1389.00 1486.12 1393.00 1488.00C1396.33 1489.56 1399.67 1491.00 1403.00 1491.00C1405.00 1491.00 1407.00 1489.67 1409.00 1489.00C1413.00 1487.67 1417.00 1486.29 1421.00 1485.00C1426.33 1483.28 1431.67 1482.48 1437.00 1480.00C1441.00 1478.14 1445.00 1470.90 1449.00 1470.00C1454.33 1468.80 1459.67 1468.62 1465.00 1468.00C1468.00 1467.65 1471.00 1467.00 1474.00 1467.00C1479.00 1467.00 1484.00 1472.79 1489.00 1474.00C1493.00 1474.97 1497.00 1476.00 1501.00 1476.00C1505.67 1476.00 1510.33 1474.02 1515.00 1473.00C1521.00 1471.69 1527.00 1469.81 1533.00 1469.00C1537.67 1468.37 1542.33 1467.60 1547.00 1467.60C1551.67 1467.60 1556.33 1471.00 1561.00 1471.00C1565.00 1471.00 1569.00 1455.45 1573.00 1455.00C1576.33 1454.63 1579.67 1454.80 1583.00 1454.40C1585.33 1454.12 1587.67 1450.23 1590.00 1448.00C1592.00 1446.09 1594.00 1442.00 1596.00 1442.00C1598.67 1442.00 1601.33 1445.24 1604.00 1449.00C1606.00 1451.82 1608.00 1461.20 1610.00 1468.00C1612.00 1474.80 1614.00 1490.00 1616.00 1490.00C1617.67 1490.00 1619.33 1477.00 1621.00 1477.00C1623.00 1477.00 1625.00 1478.63 1627.00 1479.00C1629.67 1479.50 1632.33 1479.34 1635.00 1480.00C1636.87 1480.46 1638.73 1490.00 1640.60 1490.00C1642.73 1490.00 1644.87 1474.38 1647.00 1470.00C1649.67 1464.52 1652.33 1460.95 1655.00 1458.00C1657.67 1455.05 1660.33 1451.00 1663.00 1451.00C1665.00 1451.00 1667.00 1453.23 1669.00 1456.00C1671.33 1459.23 1673.67 1488.00 1676.00 1488.00C1678.33 1488.00 1680.67 1466.37 1683.00 1456.00C1685.00 1447.11 1687.00 1434.85 1689.00 1430.00C1690.33 1426.77 1691.67 1423.00 1693.00 1423.00C1694.67 1423.00 1696.33 1427.46 1698.00 1432.00C1699.67 1436.54 1701.33 1449.59 1703.00 1460.00C1704.33 1468.33 1705.67 1488.00 1707.00 1488.00C1708.33 1488.00 1709.67 1465.78 1711.00 1464.00C1712.33 1462.22 1713.67 1461.00 1715.00 1461.00C1717.00 1461.00 1719.00 1468.80 1721.00 1474.00C1722.67 1478.33 1724.33 1490.00 1726.00 1490.00C1728.33 1490.00 1730.67 1464.87 1733.00 1450.00C1735.67 1433.00 1738.33 1408.27 1741.00 1392.00C1743.00 1379.80 1745.00 1368.21 1747.00 1360.00C1749.00 1351.79 1751.00 1344.92 1753.00 1340.00C1754.33 1336.72 1755.67 1335.64 1757.00 1332.00C1759.00 1326.55 1761.00 1313.33 1763.00 1304.00C1765.00 1294.67 1767.00 1280.15 1769.00 1276.00C1771.00 1271.85 1773.00 1268.00 1775.00 1268.00C1777.33 1268.00 1779.67 1275.93 1782.00 1282.00C1784.33 1288.07 1786.67 1297.89 1789.00 1308.00C1791.67 1319.56 1794.33 1335.21 1797.00 1350.00C1799.67 1364.79 1802.33 1395.84 1805.00 1397.00C1806.33 1397.58 1807.67 1398.00 1809.00 1398.00C1811.00 1398.00 1813.00 1391.44 1815.00 1386.00C1817.67 1378.75 1820.33 1366.86 1823.00 1350.00C1825.00 1337.36 1827.00 1315.92 1829.00 1290.00C1830.83 1266.24 1832.67 1219.28 1834.50 1190.00C1836.67 1155.39 1838.83 1129.72 1841.00 1098.00C1843.13 1066.77 1845.27 1025.59 1847.40 1001.00C1849.57 976.02 1851.73 957.03 1853.90 940.60C1855.33 929.73 1856.77 919.51 1858.20 912.50C1859.63 905.49 1861.07 895.70 1862.50 895.70C1863.93 895.70 1865.37 896.84 1866.80 898.50C1868.23 900.16 1869.67 910.97 1871.10 921.20C1872.53 931.43 1873.97 953.73 1875.40 968.60C1876.87 983.82 1878.33 998.04 1879.80 1011.70C1882.67 1038.40 1885.53 1063.32 1888.40 1087.20C1890.20 1102.20 1892.00 1114.85 1893.80 1130.30C1895.93 1148.61 1898.07 1168.95 1900.20 1190.00C1901.80 1205.79 1903.40 1222.77 1905.00 1240.00C1906.20 1252.92 1907.40 1268.64 1908.60 1280.00C1910.87 1301.46 1913.13 1314.34 1915.40 1334.50C1917.23 1350.81 1919.07 1375.14 1920.90 1389.00C1923.17 1406.14 1925.43 1419.44 1927.70 1430.00C1930.87 1444.75 1934.03 1459.26 1937.20 1465.30C1940.40 1471.40 1943.60 1472.87 1946.80 1477.60C1949.30 1481.29 1951.80 1490.50 1954.30 1490.50C1956.80 1490.50 1959.30 1477.47 1961.80 1476.20C1963.17 1475.51 1964.53 1474.90 1965.90 1474.90C1968.17 1474.90 1970.43 1478.30 1972.70 1478.30C1974.97 1478.30 1977.23 1475.29 1979.50 1473.50C1981.77 1471.71 1984.03 1467.40 1986.30 1467.40C1988.57 1467.40 1990.83 1470.47 1993.10 1472.10C1994.93 1473.42 1996.77 1476.20 1998.60 1476.20C1999.50 1476.20 2000.40 1475.33 2001.30 1474.90" stroke="#0072bd"/>
<path d="M1189.30 883.50C1191.00 899.23 1192.70 919.43 1194.40 930.70C1196.17 942.41 1197.93 948.89 1199.70 958.00C1202.13 970.55 1204.57 984.89 1207.00 995.70C1208.40 1001.92 1209.80 1006.05 1211.20 1012.40C1213.63 1023.43 1216.07 1039.61 1218.50 1052.20C1221.63 1068.42 1224.77 1086.48 1227.90 1098.30C1230.37 1107.60 1232.83 1112.90 1235.30 1121.30C1238.07 1130.72 1240.83 1141.22 1243.60 1152.70C1245.00 1158.51 1246.40 1166.08 1247.80 1171.60C1250.60 1182.64 1253.40 1191.55 1256.20 1200.30C1258.47 1207.39 1260.73 1214.15 1263.00 1220.00C1265.00 1225.16 1267.00 1228.31 1269.00 1234.00C1271.67 1241.59 1274.33 1253.66 1277.00 1264.00C1279.00 1271.75 1281.00 1281.31 1283.00 1288.00C1286.33 1299.14 1289.67 1306.57 1293.00 1316.00C1295.33 1322.60 1297.67 1329.36 1300.00 1336.00C1302.00 1341.69 1304.00 1353.00 1306.00 1353.00C1307.33 1353.00 1308.67 1346.80 1310.00 1342.00C1312.33 1333.60 1314.67 1310.61 1317.00 1302.00C1318.33 1297.08 1319.67 1290.60 1321.00 1290.60C1322.33 1290.60 1323.67 1295.29 1325.00 1300.00C1327.00 1307.07 1329.00 1336.98 1331.00 1350.00C1333.67 1367.37 1336.33 1392.00 1339.00 1392.00C1341.00 1392.00 1343.00 1392.00 1345.00 1392.00C1347.67 1392.00 1350.33 1386.00 1353.00 1386.00C1355.00 1386.00 1357.00 1387.27 1359.00 1389.00C1361.00 1390.73 1363.00 1401.37 1365.00 1408.00C1367.67 1416.85 1370.33 1430.08 1373.00 1436.00C1375.00 1440.44 1377.00 1446.00 1379.00 1446.00C1381.00 1446.00 1383.00 1445.00 1385.00 1445.00C1387.67 1445.00 1390.33 1446.55 1393.00 1448.00C1395.67 1449.45 1398.33 1455.26 1401.00 1456.00C1403.00 1456.55 1405.00 1456.46 1407.00 1457.00C1409.67 1457.72 1412.33 1460.29 1415.00 1464.00C1417.67 1467.71 1420.33 1491.00 1423.00 1491.00C1426.33 1491.00 1429.67 1480.00 1433.00 1480.00C1435.33 1480.00 1437.67 1491.00 1440.00 1491.00C1441.67 1491.00 1443.33 1486.82 1445.00 1486.00C1448.33 1484.36 1451.67 1483.00 1455.00 1483.00C1458.33 1483.00 1461.67 1484.39 1465.00 1487.00C1465.67 1487.52 1466.33 1491.00 1467.00 1491.00C1470.33 1491.00 1473.67 1476.38 1477.00 1468.00C1479.67 1461.30 1482.33 1450.42 1485.00 1446.00C1487.33 1442.13 1489.67 1437.60 1492.00 1437.60C1495.00 1437.60 1498.00 1440.72 1501.00 1444.00C1503.67 1446.91 1506.33 1460.03 1509.00 1462.00C1513.00 1464.95 1517.00 1465.18 1521.00 1467.00C1525.00 1468.82 1529.00 1470.70 1533.00 1473.00C1538.33 1476.06 1543.67 1484.00 1549.00 1484.00C1553.33 1484.00 1557.67 1476.00 1562.00 1476.00C1565.67 1476.00 1569.33 1478.30 1573.00 1480.00C1576.67 1481.70 1580.33 1487.00 1584.00 1487.00C1587.67 1487.00 1591.33 1481.00 1595.00 1481.00C1597.33 1481.00 1599.67 1491.00 1602.00 1491.00C1604.67 1491.00 1607.33 1470.02 1610.00 1464.00C1612.33 1458.73 1614.67 1452.00 1617.00 1452.00C1618.67 1452.00 1620.33 1464.00 1622.00 1464.00C1624.33 1464.00 1626.67 1429.46 1629.00 1424.00C1631.00 1419.32 1633.00 1415.00 1635.00 1415.00C1638.33 1415.00 1641.67 1431.27 1645.00 1438.00C1648.33 1444.73 1651.67 1451.25 1655.00 1456.00C1659.00 1461.70 1663.00 1464.30 1667.00 1470.00C1670.33 1474.75 1673.67 1488.00 1677.00 1488.00C1679.67 1488.00 1682.33 1451.53 1685.00 1430.00C1687.00 1413.86 1689.00 1388.62 1691.00 1376.00C1692.33 1367.59 1693.67 1356.00 1695.00 1356.00C1697.00 1356.00 1699.00 1383.08 1701.00 1400.00C1703.00 1416.92 1705.00 1445.11 1707.00 1460.00C1708.67 1472.41 1710.33 1490.00 1712.00 1490.00C1714.33 1490.00 1716.67 1481.35 1719.00 1476.00C1721.00 1471.41 1723.00 1468.53 1725.00 1460.00C1727.67 1448.63 1730.33 1388.08 1733.00 1360.00C1736.33 1324.90 1739.67 1288.46 1743.00 1270.00C1746.33 1251.54 1749.67 1247.70 1753.00 1230.00C1754.83 1220.26 1756.67 1199.45 1758.50 1190.00C1760.67 1178.84 1762.83 1164.40 1765.00 1164.40C1767.17 1164.40 1769.33 1178.84 1771.50 1190.00C1773.33 1199.45 1775.17 1217.62 1777.00 1230.00C1779.67 1248.01 1782.33 1266.89 1785.00 1280.00C1788.33 1296.39 1791.67 1305.45 1795.00 1320.00C1798.33 1334.55 1801.67 1358.66 1805.00 1368.00C1808.00 1376.41 1811.00 1386.00 1814.00 1386.00C1816.33 1386.00 1818.67 1378.49 1821.00 1370.00C1823.00 1362.72 1825.00 1339.44 1827.00 1320.00C1829.00 1300.56 1831.00 1269.84 1833.00 1250.00C1835.33 1226.85 1837.67 1215.99 1840.00 1190.00C1841.77 1170.32 1843.53 1121.94 1845.30 1108.80C1846.73 1098.14 1848.17 1091.47 1849.60 1087.20C1851.03 1082.93 1852.47 1078.10 1853.90 1078.10C1855.33 1078.10 1856.77 1080.20 1858.20 1082.90C1859.63 1085.60 1861.07 1100.18 1862.50 1108.80C1863.93 1117.42 1865.37 1123.85 1866.80 1134.60C1868.60 1148.10 1870.40 1169.10 1872.20 1190.00C1873.47 1204.71 1874.73 1225.59 1876.00 1240.00C1877.33 1255.17 1878.67 1266.72 1880.00 1280.00C1881.83 1298.25 1883.67 1317.74 1885.50 1334.50C1888.20 1359.19 1890.90 1380.44 1893.60 1402.60C1895.87 1421.21 1898.13 1442.29 1900.40 1457.20C1902.00 1467.73 1903.60 1484.40 1905.20 1484.40C1906.57 1484.40 1907.93 1479.22 1909.30 1474.90C1910.90 1469.84 1912.50 1456.01 1914.10 1450.30C1915.67 1444.71 1917.23 1437.40 1918.80 1437.40C1920.40 1437.40 1922.00 1439.57 1923.60 1442.20C1924.50 1443.68 1925.40 1448.77 1926.30 1451.70C1927.67 1456.15 1929.03 1459.04 1930.40 1464.00C1932.23 1470.65 1934.07 1489.90 1935.90 1489.90C1937.70 1489.90 1939.50 1466.62 1941.30 1457.20C1942.67 1450.05 1944.03 1442.15 1945.40 1438.10C1946.77 1434.05 1948.13 1429.20 1949.50 1429.20C1951.33 1429.20 1953.17 1432.63 1955.00 1436.70C1956.33 1439.66 1957.67 1450.82 1959.00 1457.20C1960.83 1465.97 1962.67 1476.98 1964.50 1481.70C1966.10 1485.82 1967.70 1490.50 1969.30 1490.50C1971.33 1490.50 1973.37 1484.82 1975.40 1483.70C1977.20 1482.71 1979.00 1482.38 1980.80 1481.70C1982.63 1481.01 1984.47 1479.60 1986.30 1479.60C1988.10 1479.60 1989.90 1481.00 1991.70 1481.00C1993.53 1481.00 1995.37 1479.79 1997.20 1479.00C1998.57 1478.41 1999.93 1477.60 2001.30 1476.90" stroke="#d95319"/>
<path d="M1189.00 1372.00C1190.33 1374.00 1191.67 1375.07 1193.00 1378.00C1195.67 1383.86 1198.33 1405.67 1201.00 1420.00C1203.67 1434.33 1206.33 1451.15 1209.00 1464.00C1211.00 1473.64 1213.00 1490.00 1215.00 1490.00C1217.33 1490.00 1219.67 1469.62 1222.00 1468.00C1225.67 1465.46 1229.33 1466.39 1233.00 1464.00C1235.67 1462.26 1238.33 1451.02 1241.00 1446.00C1244.33 1439.73 1247.67 1436.81 1251.00 1430.00C1253.67 1424.55 1256.33 1413.70 1259.00 1408.00C1261.67 1402.30 1264.33 1398.78 1267.00 1394.00C1269.00 1390.41 1271.00 1386.46 1273.00 1383.00C1275.67 1378.39 1278.33 1376.44 1281.00 1370.00C1283.00 1365.17 1285.00 1352.99 1287.00 1344.00C1289.00 1335.01 1291.00 1323.38 1293.00 1316.00C1295.67 1306.16 1298.33 1296.08 1301.00 1292.00C1304.33 1286.91 1307.67 1286.05 1311.00 1282.00C1315.67 1276.33 1320.33 1259.60 1325.00 1259.60C1329.00 1259.60 1333.00 1272.32 1337.00 1277.00C1339.67 1280.12 1342.33 1282.21 1345.00 1285.00C1348.33 1288.49 1351.67 1290.31 1355.00 1296.00C1357.67 1300.55 1360.33 1313.50 1363.00 1324.00C1365.67 1334.50 1368.33 1348.21 1371.00 1360.00C1375.00 1377.68 1379.00 1396.81 1383.00 1412.00C1386.33 1424.65 1389.67 1434.79 1393.00 1446.00C1395.00 1452.73 1397.00 1457.95 1399.00 1466.00C1400.67 1472.71 1402.33 1491.00 1404.00 1491.00C1405.67 1491.00 1407.33 1477.80 1409.00 1476.00C1412.33 1472.40 1415.67 1472.67 1419.00 1470.00C1422.33 1467.33 1425.67 1462.80 1429.00 1458.00C1432.33 1453.20 1435.67 1447.66 1439.00 1440.00C1441.00 1435.40 1443.00 1425.72 1445.00 1422.00C1446.87 1418.53 1448.73 1414.40 1450.60 1414.40C1452.73 1414.40 1454.87 1417.28 1457.00 1420.00C1459.67 1423.40 1462.33 1432.33 1465.00 1440.00C1467.00 1445.75 1469.00 1451.46 1471.00 1460.00C1472.67 1467.11 1474.33 1489.00 1476.00 1489.00C1478.33 1489.00 1480.67 1478.00 1483.00 1478.00C1485.33 1478.00 1487.67 1488.00 1490.00 1488.00C1492.33 1488.00 1494.67 1476.25 1497.00 1472.00C1499.67 1467.15 1502.33 1461.72 1505.00 1460.00C1508.33 1457.85 1511.67 1458.29 1515.00 1456.00C1518.33 1453.71 1521.67 1437.04 1525.00 1432.00C1527.67 1427.97 1530.33 1423.00 1533.00 1423.00C1535.33 1423.00 1537.67 1428.00 1540.00 1428.00C1541.67 1428.00 1543.33 1427.00 1545.00 1427.00C1547.67 1427.00 1550.33 1432.84 1553.00 1436.00C1555.67 1439.16 1558.33 1446.00 1561.00 1446.00C1562.67 1446.00 1564.33 1436.43 1566.00 1430.00C1568.33 1421.00 1570.67 1395.00 1573.00 1395.00C1575.33 1395.00 1577.67 1399.00 1580.00 1399.00C1581.67 1399.00 1583.33 1397.04 1585.00 1395.00C1588.33 1390.92 1591.67 1359.00 1595.00 1359.00C1598.00 1359.00 1601.00 1372.29 1604.00 1382.00C1606.33 1389.55 1608.67 1408.34 1611.00 1412.00C1612.67 1414.61 1614.33 1414.25 1616.00 1417.00C1619.00 1421.95 1622.00 1487.00 1625.00 1487.00C1628.00 1487.00 1631.00 1370.00 1634.00 1370.00C1636.33 1370.00 1638.67 1402.41 1641.00 1420.00C1643.67 1440.10 1646.33 1484.00 1649.00 1484.00C1651.00 1484.00 1653.00 1484.00 1655.00 1484.00C1657.67 1484.00 1660.33 1465.14 1663.00 1462.00C1665.67 1458.86 1668.33 1459.66 1671.00 1456.00C1673.67 1452.34 1676.33 1393.64 1679.00 1392.00C1681.00 1390.77 1683.00 1391.32 1685.00 1390.00C1686.67 1388.90 1688.33 1363.22 1690.00 1350.00C1691.87 1335.20 1693.73 1306.00 1695.60 1306.00C1697.40 1306.00 1699.20 1311.02 1701.00 1316.00C1702.33 1319.69 1703.67 1326.83 1705.00 1336.00C1706.33 1345.17 1707.67 1367.24 1709.00 1380.00C1711.00 1399.14 1713.00 1409.73 1715.00 1430.00C1716.33 1443.51 1717.67 1480.00 1719.00 1480.00C1720.33 1480.00 1721.67 1460.74 1723.00 1440.00C1724.33 1419.26 1725.67 1341.07 1727.00 1300.00C1728.33 1258.93 1729.67 1224.17 1731.00 1190.00C1732.43 1153.27 1733.87 1118.25 1735.30 1087.00C1736.73 1055.75 1738.17 1029.61 1739.60 1001.00C1740.90 975.05 1742.20 923.30 1743.50 923.30C1744.20 923.30 1744.90 923.75 1745.60 924.40C1746.47 925.20 1747.33 938.40 1748.20 938.40C1749.30 938.40 1750.40 921.20 1751.50 921.20C1752.57 921.20 1753.63 937.30 1754.70 937.30C1756.13 937.30 1757.57 912.06 1759.00 904.00C1760.57 895.19 1762.13 883.40 1763.70 883.40C1765.00 883.40 1766.30 898.49 1767.60 914.70C1768.70 928.41 1769.80 968.59 1770.90 1001.00C1771.97 1032.43 1773.03 1071.12 1774.10 1108.80C1774.83 1134.70 1775.57 1168.54 1776.30 1190.00C1776.70 1201.70 1777.10 1211.61 1777.50 1220.00C1778.67 1244.47 1779.83 1256.37 1781.00 1280.00C1782.33 1307.01 1783.67 1349.47 1785.00 1380.00C1786.67 1418.17 1788.33 1485.00 1790.00 1485.00C1791.67 1485.00 1793.33 1442.00 1795.00 1442.00C1796.00 1442.00 1797.00 1457.00 1798.00 1457.00C1799.67 1457.00 1801.33 1435.73 1803.00 1420.00C1805.00 1401.13 1807.00 1366.67 1809.00 1340.00C1811.00 1313.33 1813.00 1289.15 1815.00 1260.00C1816.47 1238.63 1817.93 1215.37 1819.40 1190.00C1821.20 1158.87 1823.00 1112.53 1824.80 1087.00C1826.93 1056.74 1829.07 1015.60 1831.20 1015.60C1833.00 1015.60 1834.80 1042.68 1836.60 1065.60C1838.07 1084.28 1839.53 1130.44 1841.00 1151.90C1842.07 1167.50 1843.13 1178.12 1844.20 1190.00C1846.47 1215.25 1848.73 1233.59 1851.00 1260.00C1853.00 1283.30 1855.00 1307.57 1857.00 1340.00C1858.33 1361.62 1859.67 1395.69 1861.00 1420.00C1862.33 1444.31 1863.67 1487.00 1865.00 1487.00C1866.33 1487.00 1867.67 1449.00 1869.00 1449.00C1870.67 1449.00 1872.33 1484.00 1874.00 1484.00C1875.67 1484.00 1877.33 1468.89 1879.00 1460.00C1880.67 1451.11 1882.33 1431.82 1884.00 1430.00C1886.33 1427.45 1888.67 1428.51 1891.00 1426.00C1892.80 1424.06 1894.60 1395.00 1896.40 1395.00C1897.73 1395.00 1899.07 1400.00 1900.40 1400.00C1901.77 1400.00 1903.13 1376.81 1904.50 1361.80C1905.87 1346.79 1907.23 1323.34 1908.60 1307.00C1909.73 1293.45 1910.87 1285.27 1912.00 1270.00C1913.47 1250.24 1914.93 1200.27 1916.40 1190.00C1917.83 1179.96 1919.27 1171.30 1920.70 1171.30C1922.13 1171.30 1923.57 1176.53 1925.00 1180.00C1926.33 1183.23 1927.67 1186.02 1929.00 1192.00C1930.67 1199.47 1932.33 1224.80 1934.00 1240.00C1935.53 1253.98 1937.07 1268.54 1938.60 1280.00C1939.97 1290.22 1941.33 1298.03 1942.70 1307.00C1944.07 1315.97 1945.43 1333.80 1946.80 1333.80C1947.70 1333.80 1948.60 1327.39 1949.50 1325.00C1950.87 1321.37 1952.23 1316.00 1953.60 1316.00C1954.73 1316.00 1955.87 1319.50 1957.00 1319.50C1959.03 1319.50 1961.07 1311.30 1963.10 1311.30C1964.03 1311.30 1964.97 1316.24 1965.90 1320.90C1967.23 1327.55 1968.57 1352.75 1969.90 1361.80C1971.73 1374.25 1973.57 1385.06 1975.40 1389.00C1976.30 1390.93 1977.20 1393.00 1978.10 1393.00C1979.70 1393.00 1981.30 1390.70 1982.90 1390.70C1984.50 1390.70 1986.10 1396.69 1987.70 1402.60C1989.03 1407.52 1990.37 1422.33 1991.70 1430.00C1993.07 1437.86 1994.43 1443.82 1995.80 1450.30C1996.80 1455.04 1997.80 1464.00 1998.80 1464.00C1999.63 1464.00 2000.47 1460.33 2001.30 1458.50" stroke="#edb120"/>
</g>
<path d="M1189.0 1491.2V1482.2M1189.0 851.0V860.0M1279.3 1491.2V1482.2M1279.3 851.0V860.0M1369.5 1491.2V1482.2M1369.5 851.0V860.0M1459.8 1491.2V1482.2M1459.8 851.0V860.0M1550.1 1491.2V1482.2M1550.1 851.0V860.0M1640.3 1491.2V1482.2M1640.3 851.0V860.0M1730.6 1491.2V1482.2M1730.6 851.0V860.0M1820.9 1491.2V1482.2M1820.9 851.0V860.0M1911.1 1491.2V1482.2M1911.1 851.0V860.0M2001.4 1491.2V1482.2M2001.4 851.0V860.0M1189.0 1491.2H1198.0M2001.4 1491.2H1992.4M1189.0 1411.2H1198.0M2001.4 1411.2H1992.4M1189.0 1331.2H1198.0M2001.4 1331.2H1992.4M1189.0 1251.1H1198.0M2001.4 1251.1H1992.4M1189.0 1171.1H1198.0M2001.4 1171.1H1992.4M1189.0 1091.1H1198.0M2001.4 1091.1H1992.4M1189.0 1011.1H1198.0M2001.4 1011.1H1992.4M1189.0 931.0H1198.0M2001.4 931.0H1992.4M1189.0 851.0H1198.0M2001.4 851.0H1992.4" stroke="#1a1a1a" stroke-width="2.2" fill="none"/>
<rect x="1189.0" y="851.0" width="812.4000000000001" height="640.2" fill="none" stroke="#1a1a1a" stroke-width="2.6"/>
<text x="1189.00" y="1526.00" font-size="23.5" font-weight="normal" fill="#1a1a1a" text-anchor="middle" textLength="40.21" lengthAdjust="spacingAndGlyphs">900</text>
<text x="1279.27" y="1526.00" font-size="23.5" font-weight="normal" fill="#1a1a1a" text-anchor="middle" textLength="53.28" lengthAdjust="spacingAndGlyphs">1000</text>
<text x="1369.53" y="1526.00" font-size="23.5" font-weight="normal" fill="#1a1a1a" text-anchor="middle" textLength="51.54" lengthAdjust="spacingAndGlyphs">1100</text>
<text x="1459.80" y="1526.00" font-size="23.5" font-weight="normal" fill="#1a1a1a" text-anchor="middle" textLength="53.28" lengthAdjust="spacingAndGlyphs">1200</text>
<text x="1550.07" y="1526.00" font-size="23.5" font-weight="normal" fill="#1a1a1a" text-anchor="middle" textLength="53.28" lengthAdjust="spacingAndGlyphs">1300</text>
<text x="1640.33" y="1526.00" font-size="23.5" font-weight="normal" fill="#1a1a1a" text-anchor="middle" textLength="53.28" lengthAdjust="spacingAndGlyphs">1400</text>
<text x="1730.60" y="1526.00" font-size="23.5" font-weight="normal" fill="#1a1a1a" text-anchor="middle" textLength="53.28" lengthAdjust="spacingAndGlyphs">1500</text>
<text x="1820.87" y="1526.00" font-size="23.5" font-weight="normal" fill="#1a1a1a" text-anchor="middle" textLength="53.28" lengthAdjust="spacingAndGlyphs">1600</text>
<text x="1911.13" y="1526.00" font-size="23.5" font-weight="normal" fill="#1a1a1a" text-anchor="middle" textLength="53.28" lengthAdjust="spacingAndGlyphs">1700</text>
<text x="2001.40" y="1526.00" font-size="23.5" font-weight="normal" fill="#1a1a1a" text-anchor="middle" textLength="53.28" lengthAdjust="spacingAndGlyphs">1800</text>
<text x="1178.00" y="1499.80" font-size="23.5" font-weight="normal" fill="#1a1a1a" text-anchor="end" textLength="15.07" lengthAdjust="spacingAndGlyphs">0</text>
<text x="1178.00" y="1419.77" font-size="23.5" font-weight="normal" fill="#1a1a1a" text-anchor="end" textLength="47.74" lengthAdjust="spacingAndGlyphs">0.02</text>
<text x="1178.00" y="1339.75" font-size="23.5" font-weight="normal" fill="#1a1a1a" text-anchor="end" textLength="47.74" lengthAdjust="spacingAndGlyphs">0.04</text>
<text x="1178.00" y="1259.72" font-size="23.5" font-weight="normal" fill="#1a1a1a" text-anchor="end" textLength="47.74" lengthAdjust="spacingAndGlyphs">0.06</text>
<text x="1178.00" y="1179.70" font-size="23.5" font-weight="normal" fill="#1a1a1a" text-anchor="end" textLength="47.74" lengthAdjust="spacingAndGlyphs">0.08</text>
<text x="1178.00" y="1099.67" font-size="23.5" font-weight="normal" fill="#1a1a1a" text-anchor="end" textLength="34.67" lengthAdjust="spacingAndGlyphs">0.1</text>
<text x="1178.00" y="1019.65" font-size="23.5" font-weight="normal" fill="#1a1a1a" text-anchor="end" textLength="47.74" lengthAdjust="spacingAndGlyphs">0.12</text>
<text x="1178.00" y="939.62" font-size="23.5" font-weight="normal" fill="#1a1a1a" text-anchor="end" textLength="47.74" lengthAdjust="spacingAndGlyphs">0.14</text>
<text x="1178.00" y="859.60" font-size="23.5" font-weight="normal" fill="#1a1a1a" text-anchor="end" textLength="47.74" lengthAdjust="spacingAndGlyphs">0.16</text>
<rect x="1333.5" y="866.5" width="318.5" height="96.5" fill="#fff" stroke="#1a1a1a" stroke-width="2"/>
<line x1="1347" y1="885.7" x2="1424" y2="885.7" stroke="#0072bd" stroke-width="2.4"/>
<line x1="1347" y1="914.8" x2="1424" y2="914.8" stroke="#d95319" stroke-width="2.4"/>
<line x1="1347" y1="944" x2="1424" y2="944" stroke="#edb120" stroke-width="2.4"/>
<text x="1430.80" y="894.30" font-size="23" font-weight="normal" fill="#111" textLength="213.23" lengthAdjust="spacingAndGlyphs" >1° Loading (68,18 %)</text>
<text x="1430.80" y="923.50" font-size="23" font-weight="normal" fill="#111" textLength="213.23" lengthAdjust="spacingAndGlyphs" >2° Loading (16,56 %)</text>
<text x="1430.80" y="952.50" font-size="23" font-weight="normal" fill="#111" textLength="200.63" lengthAdjust="spacingAndGlyphs" >3° Loading (7,16 %)</text>
<text transform="translate(1119.00,1237.80) rotate(-90)" x="-0.00" y="0" font-size="27" font-weight="normal" fill="#1a1a1a" textLength="140.84" lengthAdjust="spacingAndGlyphs" >Coefficients</text>
<text x="1201.60" y="887.00" font-size="23.5" font-weight="normal" fill="#111" textLength="81.38" lengthAdjust="spacingAndGlyphs" >900 cm</text>
<text x="1284.00" y="875.81" font-size="16.919999999999998" font-weight="normal" fill="#111" textLength="14.99" lengthAdjust="spacingAndGlyphs" >-1</text>
<text x="1290.00" y="1243.00" font-size="23.5" font-weight="normal" fill="#111" textLength="94.01" lengthAdjust="spacingAndGlyphs" >1046 cm</text>
<text x="1385.00" y="1230.11" font-size="16.919999999999998" font-weight="normal" fill="#111" textLength="15.99" lengthAdjust="spacingAndGlyphs" >-1</text>
<text x="1547.00" y="1347.00" font-size="23.5" font-weight="normal" fill="#111" textLength="94.01" lengthAdjust="spacingAndGlyphs" >1350 cm</text>
<text x="1642.00" y="1334.11" font-size="16.919999999999998" font-weight="normal" fill="#111" textLength="14.99" lengthAdjust="spacingAndGlyphs" >-1</text>
<text x="1707.30" y="880.20" font-size="23.5" font-weight="normal" fill="#111" textLength="93.71" lengthAdjust="spacingAndGlyphs" >1537 cm</text>
<text x="1802.00" y="868.61" font-size="16.919999999999998" font-weight="normal" fill="#111" textLength="15.19" lengthAdjust="spacingAndGlyphs" >-1</text>
<text x="1834.00" y="885.60" font-size="23.5" font-weight="normal" fill="#111" textLength="93.21" lengthAdjust="spacingAndGlyphs" >1640 cm</text>
<text x="1928.20" y="874.01" font-size="16.919999999999998" font-weight="normal" fill="#111" textLength="16.19" lengthAdjust="spacingAndGlyphs" >-1</text>
<text x="1474.00" y="1567.40" font-size="26" font-weight="normal" fill="#1a1a1a" textLength="215.97" lengthAdjust="spacingAndGlyphs" >Wavenumber (cm</text>
<text x="1690.50" y="1553.00" font-size="19" font-weight="normal" fill="#1a1a1a" textLength="13.99" lengthAdjust="spacingAndGlyphs" >-1</text>
<text x="1705.00" y="1567.40" font-size="26" font-weight="normal" fill="#1a1a1a" textLength="10.94" lengthAdjust="spacingAndGlyphs" >)</text>
</svg>
</body></html>
